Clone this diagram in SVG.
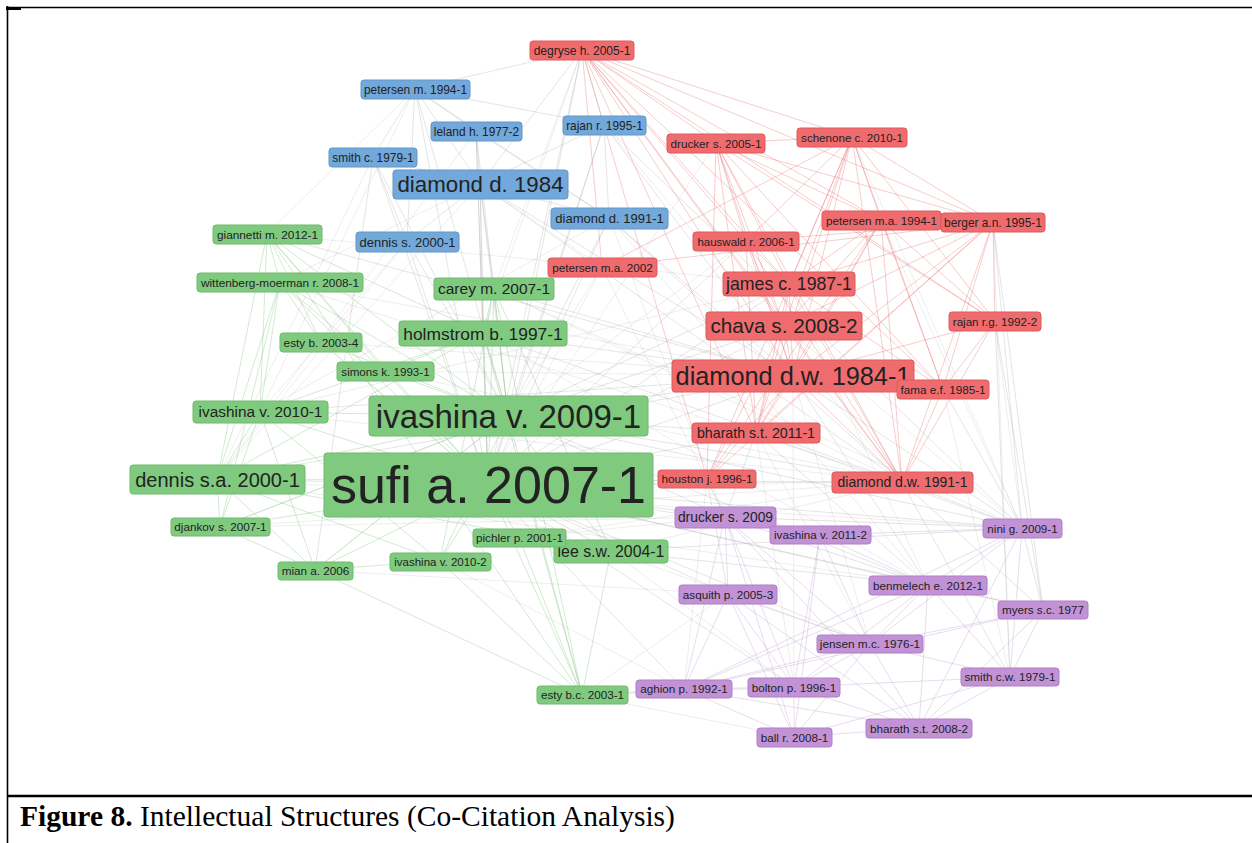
<svg xmlns="http://www.w3.org/2000/svg" width="1252" height="843" viewBox="0 0 1252 843">
<style>
.bg{fill:#ffffff}
.frame{stroke:#000;fill:none}
.er path{stroke:#e55a5e;stroke-opacity:.3;stroke-width:1;fill:none}
.eg path{stroke:#a9a9a9;stroke-opacity:.3;stroke-width:1;fill:none}
.eg2 path{stroke:#b0b0b0;stroke-opacity:.22;stroke-width:1;fill:none}
.egr path{stroke:#6fbf6f;stroke-opacity:.32;stroke-width:1;fill:none}
.ep path{stroke:#c3a2d3;stroke-opacity:.38;stroke-width:1;fill:none}
.node rect{rx:3;ry:3;stroke-width:1}
.g rect{fill:#7fca7f;stroke:#6eba6e}
.b rect{fill:#72a8da;stroke:#6197ca}
.r rect{fill:#ef6b6e;stroke:#dc5a5d}
.p rect{fill:#c292d6;stroke:#af7fc5}
.node text{font-family:"Liberation Sans",Arial,sans-serif;fill:#222;text-anchor:middle}
.cap{font-family:"Liberation Serif","Times New Roman",serif;font-size:29.5px;fill:#000}
</style>
<rect class="bg" x="0" y="0" width="1252" height="843"/>
<g id="frame">
<path class="frame" d="M6 7.5H1252" stroke-width="1.6"/>
<path class="frame" d="M7.5 6V843" stroke-width="1.6"/>
<path class="frame" d="M6 8.5H21" stroke-width="3"/>
<path class="frame" d="M7 796H1252" stroke-width="2.6"/>
</g>
<g id="connectors">
<g class="eg2">
<path d="M217 479L1022 528"/><path d="M217 479L928 585"/><path d="M260 412L789 284"/><path d="M260 412L902 482"/><path d="M267 234L789 284"/><path d="M280 282L793 376"/><path d="M280 282L902 482"/><path d="M321 342L793 376"/><path d="M385 371L793 376"/><path d="M385 371L902 482"/><path d="M494 289L902 482"/><path d="M494 289L1022 528"/><path d="M483 333L928 585"/><path d="M220 527L902 482"/><path d="M220 527L725 517"/><path d="M315 570L728 594"/><path d="M440 561L684 689"/><path d="M519 538L725 517"/><path d="M519 538L902 482"/><path d="M611 551L902 482"/><path d="M611 551L870 644"/><path d="M611 551L794 687"/><path d="M582 695L728 594"/><path d="M582 695L794 737"/><path d="M373 157L217 479"/><path d="M407 241L217 479"/><path d="M407 241L260 412"/><path d="M415 89L260 412"/><path d="M476 131L217 479"/><path d="M609 218L725 517"/><path d="M609 218L928 585"/><path d="M604 125L902 482"/><path d="M602 267L488 485"/><path d="M602 267L508 416"/><path d="M602 267L725 517"/><path d="M602 267L480 184"/><path d="M602 267L494 289"/><path d="M746 241L508 416"/><path d="M789 284L928 585"/><path d="M784 326L1022 528"/><path d="M793 376L870 644"/><path d="M793 376L794 687"/><path d="M756 433L870 644"/><path d="M756 433L794 687"/><path d="M707 479L684 689"/><path d="M943 389L1010 677"/><path d="M993 222L1010 677"/><path d="M995 321L1022 528"/><path d="M881 220L1022 528"/><path d="M852 137L1022 528"/><path d="M716 143L488 485"/><path d="M582 50L483 333"/><path d="M582 50L494 289"/><path d="M267 234L415 89"/><path d="M280 282L480 184"/><path d="M217 479L480 184"/><path d="M260 412L609 218"/><path d="M220 527L508 416"/><path d="M315 570L508 416"/><path d="M321 342L488 485"/>
</g>
<g class="eg">
<path d="M582 50L604 125"/><path d="M582 50L480 184"/><path d="M582 50L488 485"/><path d="M582 50L508 416"/><path d="M582 50L415 89"/>
<path d="M415 89L476 131"/><path d="M415 89L480 184"/><path d="M415 89L609 218"/><path d="M415 89L373 157"/><path d="M415 89L407 241"/><path d="M415 89L488 485"/><path d="M415 89L508 416"/><path d="M415 89L604 125"/>
<path d="M476 131L480 184"/><path d="M476 131L609 218"/><path d="M476 131L488 485"/><path d="M476 131L508 416"/><path d="M476 131L483 333"/>
<path d="M604 125L480 184"/><path d="M604 125L609 218"/><path d="M604 125L488 485"/><path d="M604 125L508 416"/><path d="M604 125L793 376"/><path d="M604 125L1022 528"/>
<path d="M373 157L480 184"/><path d="M373 157L488 485"/><path d="M373 157L508 416"/><path d="M373 157L407 241"/><path d="M373 157L315 570"/>
<path d="M480 184L609 218"/><path d="M480 184L407 241"/><path d="M480 184L488 485"/><path d="M480 184L508 416"/><path d="M480 184L793 376"/><path d="M480 184L483 333"/><path d="M480 184L494 289"/><path d="M480 184L902 482"/>
<path d="M609 218L488 485"/><path d="M609 218L508 416"/><path d="M609 218L793 376"/><path d="M609 218L902 482"/>
<path d="M407 241L488 485"/><path d="M407 241L508 416"/>
<path d="M488 485L793 376"/><path d="M488 485L902 482"/><path d="M488 485L707 479"/><path d="M488 485L725 517"/><path d="M488 485L820 535"/><path d="M488 485L1022 528"/><path d="M488 485L928 585"/><path d="M488 485L728 594"/><path d="M488 485L870 644"/><path d="M488 485L684 689"/><path d="M488 485L794 687"/><path d="M488 485L784 326"/><path d="M488 485L789 284"/><path d="M488 485L1043 610"/><path d="M488 485L756 433"/><path d="M488 485L746 241"/>
<path d="M508 416L793 376"/><path d="M508 416L784 326"/><path d="M508 416L789 284"/><path d="M508 416L902 482"/><path d="M508 416L725 517"/><path d="M508 416L1022 528"/><path d="M508 416L928 585"/><path d="M508 416L756 433"/>
<path d="M217 479L793 376"/><path d="M217 479L902 482"/><path d="M260 412L793 376"/><path d="M267 234L793 376"/><path d="M494 289L793 376"/><path d="M483 333L793 376"/><path d="M483 333L902 482"/><path d="M611 551L1022 528"/><path d="M611 551L928 585"/><path d="M582 695L684 689"/><path d="M582 695L794 687"/>
<path d="M756 433L725 517"/><path d="M756 433L1022 528"/><path d="M756 433L928 585"/><path d="M902 482L1022 528"/><path d="M902 482L1043 610"/><path d="M902 482L1010 677"/><path d="M707 479L725 517"/><path d="M707 479L728 594"/><path d="M793 376L928 585"/><path d="M793 376L1022 528"/><path d="M943 389L1022 528"/><path d="M993 222L1022 528"/><path d="M993 222L1043 610"/><path d="M995 321L1010 677"/><path d="M995 321L1043 610"/>
</g>
<g class="ep">
<path d="M725 517L820 535"/><path d="M725 517L1022 528"/><path d="M725 517L928 585"/><path d="M725 517L728 594"/><path d="M725 517L870 644"/><path d="M725 517L684 689"/><path d="M725 517L794 687"/><path d="M725 517L919 728"/><path d="M725 517L794 737"/>
<path d="M820 535L1022 528"/><path d="M820 535L928 585"/><path d="M820 535L870 644"/><path d="M820 535L794 687"/><path d="M820 535L794 737"/>
<path d="M1022 528L928 585"/><path d="M1022 528L1043 610"/><path d="M1022 528L1010 677"/><path d="M1022 528L870 644"/><path d="M1022 528L919 728"/><path d="M1022 528L684 689"/>
<path d="M928 585L1043 610"/><path d="M928 585L870 644"/><path d="M928 585L1010 677"/><path d="M928 585L794 687"/><path d="M928 585L919 728"/><path d="M928 585L684 689"/>
<path d="M728 594L870 644"/><path d="M728 594L684 689"/><path d="M728 594L794 687"/><path d="M728 594L794 737"/><path d="M728 594L919 728"/>
<path d="M1043 610L870 644"/><path d="M1043 610L1010 677"/><path d="M1043 610L919 728"/><path d="M1043 610L684 689"/>
<path d="M870 644L1010 677"/><path d="M870 644L684 689"/><path d="M870 644L794 687"/><path d="M870 644L919 728"/><path d="M870 644L794 737"/>
<path d="M1010 677L794 687"/><path d="M1010 677L919 728"/><path d="M1010 677L794 737"/>
<path d="M684 689L794 687"/><path d="M684 689L794 737"/><path d="M684 689L919 728"/>
<path d="M794 687L794 737"/><path d="M794 687L919 728"/><path d="M919 728L794 737"/>
</g>
<g class="egr">
<path d="M488 485L267 234"/><path d="M488 485L280 282"/><path d="M488 485L494 289"/><path d="M488 485L483 333"/><path d="M488 485L321 342"/><path d="M488 485L385 371"/><path d="M488 485L260 412"/><path d="M488 485L508 416"/><path d="M488 485L217 479"/><path d="M488 485L220 527"/><path d="M488 485L315 570"/><path d="M488 485L440 561"/><path d="M488 485L519 538"/><path d="M488 485L611 551"/><path d="M488 485L582 695"/>
<path d="M508 416L267 234"/><path d="M508 416L280 282"/><path d="M508 416L494 289"/><path d="M508 416L483 333"/><path d="M508 416L321 342"/><path d="M508 416L385 371"/><path d="M508 416L260 412"/><path d="M508 416L217 479"/><path d="M508 416L220 527"/><path d="M508 416L315 570"/><path d="M508 416L440 561"/><path d="M508 416L611 551"/><path d="M508 416L582 695"/>
<path d="M267 234L280 282"/><path d="M267 234L321 342"/><path d="M267 234L385 371"/><path d="M267 234L260 412"/><path d="M267 234L217 479"/><path d="M267 234L483 333"/><path d="M267 234L582 695"/>
<path d="M280 282L321 342"/><path d="M280 282L385 371"/><path d="M280 282L260 412"/><path d="M280 282L217 479"/><path d="M280 282L220 527"/>
<path d="M494 289L483 333"/><path d="M494 289L582 695"/><path d="M494 289L611 551"/><path d="M494 289L440 561"/>
<path d="M483 333L582 695"/><path d="M483 333L385 371"/><path d="M483 333L260 412"/><path d="M483 333L217 479"/>
<path d="M260 412L217 479"/><path d="M260 412L220 527"/><path d="M260 412L315 570"/><path d="M260 412L440 561"/>
<path d="M217 479L220 527"/><path d="M217 479L315 570"/><path d="M217 479L440 561"/><path d="M217 479L611 551"/>
<path d="M220 527L315 570"/><path d="M315 570L582 695"/><path d="M315 570L440 561"/><path d="M440 561L582 695"/><path d="M519 538L582 695"/><path d="M611 551L582 695"/>
</g>
<g class="er">
<path d="M582 50L716 143"/><path d="M582 50L852 137"/><path d="M582 50L881 220"/><path d="M582 50L993 222"/><path d="M582 50L746 241"/><path d="M582 50L789 284"/><path d="M582 50L784 326"/><path d="M582 50L793 376"/><path d="M582 50L756 433"/><path d="M582 50L902 482"/><path d="M582 50L995 321"/><path d="M582 50L943 389"/><path d="M582 50L602 267"/><path d="M582 50L707 479"/>
<path d="M716 143L852 137"/><path d="M716 143L881 220"/><path d="M716 143L993 222"/><path d="M716 143L746 241"/><path d="M716 143L789 284"/><path d="M716 143L784 326"/><path d="M716 143L793 376"/><path d="M716 143L756 433"/><path d="M716 143L707 479"/><path d="M716 143L902 482"/><path d="M716 143L995 321"/><path d="M716 143L943 389"/>
<path d="M852 137L881 220"/><path d="M852 137L993 222"/><path d="M852 137L746 241"/><path d="M852 137L789 284"/><path d="M852 137L784 326"/><path d="M852 137L793 376"/><path d="M852 137L756 433"/><path d="M852 137L902 482"/><path d="M852 137L995 321"/><path d="M852 137L943 389"/><path d="M852 137L707 479"/><path d="M852 137L602 267"/>
<path d="M881 220L993 222"/><path d="M881 220L789 284"/><path d="M881 220L784 326"/><path d="M881 220L793 376"/><path d="M881 220L756 433"/><path d="M881 220L902 482"/><path d="M881 220L995 321"/><path d="M881 220L943 389"/><path d="M881 220L707 479"/>
<path d="M993 222L746 241"/><path d="M993 222L789 284"/><path d="M993 222L784 326"/><path d="M993 222L793 376"/><path d="M993 222L756 433"/><path d="M993 222L707 479"/><path d="M993 222L902 482"/><path d="M993 222L995 321"/><path d="M993 222L943 389"/><path d="M993 222L602 267"/>
<path d="M746 241L789 284"/><path d="M746 241L784 326"/><path d="M746 241L793 376"/><path d="M746 241L756 433"/><path d="M746 241L902 482"/>
<path d="M789 284L784 326"/><path d="M789 284L793 376"/><path d="M789 284L756 433"/><path d="M789 284L902 482"/><path d="M789 284L943 389"/>
<path d="M784 326L793 376"/><path d="M784 326L756 433"/><path d="M784 326L902 482"/><path d="M784 326L707 479"/>
<path d="M793 376L756 433"/><path d="M793 376L902 482"/><path d="M793 376L943 389"/><path d="M793 376L707 479"/>
<path d="M995 321L793 376"/><path d="M995 321L902 482"/><path d="M995 321L943 389"/><path d="M943 389L902 482"/>
</g>
</g>
<g id="nodes">
<g id="n-degryse-2005" class="node r"><rect x="530" y="41" width="104" height="19"/><text x="582" y="54.7" font-size="12">degryse h. 2005-1</text></g>
<g id="n-petersen-m-1994" class="node b"><rect x="361" y="80" width="109" height="19"/><text x="415.5" y="93.7" font-size="11.9">petersen m. 1994-1</text></g>
<g id="n-leland-1977" class="node b"><rect x="431" y="122" width="91" height="19"/><text x="476.5" y="135.7" font-size="11.9">leland h. 1977-2</text></g>
<g id="n-rajan-r-1995" class="node b"><rect x="563" y="116" width="83" height="19"/><text x="604.5" y="129.7" font-size="11.9">rajan r. 1995-1</text></g>
<g id="n-smith-c-1979" class="node b"><rect x="329" y="148" width="88" height="19"/><text x="373" y="161.7" font-size="11.9">smith c. 1979-1</text></g>
<g id="n-diamond-d-1984" class="node b"><rect x="393" y="170" width="175" height="29"/><text x="480.5" y="192.2" font-size="22.3">diamond d. 1984</text></g>
<g id="n-diamond-d-1991" class="node b"><rect x="551" y="208" width="117" height="21"/><text x="609.5" y="223" font-size="13">diamond d. 1991-1</text></g>
<g id="n-dennis-s-2000" class="node b"><rect x="356" y="232" width="103" height="20"/><text x="407.5" y="246.5" font-size="13">dennis s. 2000-1</text></g>
<g id="n-drucker-2005" class="node r"><rect x="667" y="134" width="98" height="19"/><text x="716" y="147.7" font-size="11.7">drucker s. 2005-1</text></g>
<g id="n-schenone-2010" class="node r"><rect x="797" y="128" width="110" height="19"/><text x="852" y="141.6" font-size="11.6">schenone c. 2010-1</text></g>
<g id="n-petersen-ma-1994" class="node r"><rect x="822" y="211" width="119" height="19"/><text x="881.5" y="224.6" font-size="11.7">petersen m.a. 1994-1</text></g>
<g id="n-berger-1995" class="node r"><rect x="941" y="213" width="104" height="19"/><text x="993" y="226.7" font-size="11.9">berger a.n. 1995-1</text></g>
<g id="n-hauswald-2006" class="node r"><rect x="693" y="232" width="106" height="19"/><text x="746" y="245.5" font-size="11.5">hauswald r. 2006-1</text></g>
<g id="n-james-1987" class="node r"><rect x="723" y="272" width="132" height="24"/><text x="789" y="290.2" font-size="17.7">james c. 1987-1</text></g>
<g id="n-petersen-ma-2002" class="node r"><rect x="548" y="258" width="109" height="19"/><text x="602.5" y="271.6" font-size="11.7">petersen m.a. 2002</text></g>
<g id="n-rajan-rg-1992" class="node r"><rect x="949" y="312" width="92" height="19"/><text x="995" y="325.6" font-size="11.6">rajan r.g. 1992-2</text></g>
<g id="n-chava-2008" class="node r"><rect x="706" y="312" width="156" height="28"/><text x="784" y="333.2" font-size="20.7">chava s. 2008-2</text></g>
<g id="n-diamond-dw-1984" class="node r"><rect x="672" y="360" width="242" height="32"/><text x="793" y="384.9" font-size="25.3">diamond d.w. 1984-1</text></g>
<g id="n-fama-1985" class="node r"><rect x="897" y="380" width="92" height="19"/><text x="943" y="393.6" font-size="11.7">fama e.f. 1985-1</text></g>
<g id="n-bharath-2011" class="node r"><rect x="692" y="423" width="128" height="20"/><text x="756" y="437.9" font-size="14.2">bharath s.t. 2011-1</text></g>
<g id="n-houston-1996" class="node r"><rect x="658" y="470" width="98" height="18"/><text x="707" y="483.1" font-size="11.8">houston j. 1996-1</text></g>
<g id="n-diamond-dw-1991" class="node r"><rect x="832" y="472" width="141" height="21"/><text x="902.5" y="487.4" font-size="14">diamond d.w. 1991-1</text></g>
<g id="n-giannetti-2012" class="node g"><rect x="213" y="225" width="109" height="19"/><text x="267.5" y="238.6" font-size="11.8">giannetti m. 2012-1</text></g>
<g id="n-wittenberg-2008" class="node g"><rect x="197" y="273" width="166" height="19"/><text x="280" y="286.6" font-size="11.8">wittenberg-moerman r. 2008-1</text></g>
<g id="n-carey-2007" class="node g"><rect x="434" y="278" width="120" height="22"/><text x="494" y="294.4" font-size="15.5">carey m. 2007-1</text></g>
<g id="n-holmstrom-1997" class="node g"><rect x="399" y="321" width="168" height="25"/><text x="483" y="339.6" font-size="17.4">holmstrom b. 1997-1</text></g>
<g id="n-esty-b-2003-4" class="node g"><rect x="280" y="333" width="82" height="19"/><text x="321" y="346.6" font-size="11.8">esty b. 2003-4</text></g>
<g id="n-simons-1993" class="node g"><rect x="337" y="362" width="97" height="19"/><text x="385.5" y="375.6" font-size="11.6">simons k. 1993-1</text></g>
<g id="n-ivashina-2010-1" class="node g"><rect x="193" y="401" width="135" height="22"/><text x="260.5" y="417.4" font-size="15.4">ivashina v. 2010-1</text></g>
<g id="n-ivashina-2009" class="node g"><rect x="369" y="396" width="279" height="40"/><text x="508.5" y="427.5" font-size="33">ivashina v. 2009-1</text></g>
<g id="n-dennis-sa-2000" class="node g"><rect x="130" y="465" width="175" height="29"/><text x="217.5" y="486.5" font-size="20">dennis s.a. 2000-1</text></g>
<g id="n-sufi-2007" class="node g"><rect x="324" y="453" width="329" height="64"/><text x="488.5" y="503.2" font-size="52">sufi a. 2007-1</text></g>
<g id="n-djankov-2007" class="node g"><rect x="171" y="518" width="99" height="18"/><text x="220.5" y="531.1" font-size="11.7">djankov s. 2007-1</text></g>
<g id="n-mian-2006" class="node g"><rect x="278" y="562" width="75" height="18"/><text x="315.5" y="575.1" font-size="11.7">mian a. 2006</text></g>
<g id="n-ivashina-2010-2" class="node g"><rect x="390" y="553" width="101" height="18"/><text x="440.5" y="566" font-size="11.5">ivashina v. 2010-2</text></g>
<g id="n-lee-2004" class="node g"><rect x="554" y="540" width="114" height="23"/><text x="611" y="557.1" font-size="15.9">lee s.w. 2004-1</text></g>
<g id="n-pichler-2001" class="node g"><rect x="473" y="529" width="93" height="18"/><text x="519.5" y="542.1" font-size="11.7">pichler p. 2001-1</text></g>
<g id="n-esty-bc-2003" class="node g"><rect x="537" y="686" width="91" height="18"/><text x="582.5" y="699.1" font-size="11.7">esty b.c. 2003-1</text></g>
<g id="n-drucker-2009" class="node p"><rect x="675" y="507" width="101" height="21"/><text x="725.5" y="522.3" font-size="13.8">drucker s. 2009</text></g>
<g id="n-ivashina-2011" class="node p"><rect x="770" y="526" width="101" height="18"/><text x="820.5" y="539.1" font-size="11.7">ivashina v. 2011-2</text></g>
<g id="n-nini-2009" class="node p"><rect x="983" y="519" width="79" height="19"/><text x="1022.5" y="532.6" font-size="11.6">nini g. 2009-1</text></g>
<g id="n-benmelech-2012" class="node p"><rect x="869" y="576" width="118" height="19"/><text x="928" y="589.6" font-size="11.7">benmelech e. 2012-1</text></g>
<g id="n-asquith-2005" class="node p"><rect x="679" y="585" width="98" height="19"/><text x="728" y="598.6" font-size="11.7">asquith p. 2005-3</text></g>
<g id="n-myers-1977" class="node p"><rect x="998" y="601" width="90" height="18"/><text x="1043" y="614.1" font-size="11.6">myers s.c. 1977</text></g>
<g id="n-jensen-1976" class="node p"><rect x="817" y="635" width="106" height="18"/><text x="870" y="648.1" font-size="11.8">jensen m.c. 1976-1</text></g>
<g id="n-smith-cw-1979" class="node p"><rect x="961" y="668" width="98" height="18"/><text x="1010" y="681.1" font-size="11.7">smith c.w. 1979-1</text></g>
<g id="n-aghion-1992" class="node p"><rect x="636" y="680" width="96" height="18"/><text x="684" y="693.1" font-size="11.7">aghion p. 1992-1</text></g>
<g id="n-bolton-1996" class="node p"><rect x="748" y="678" width="92" height="19"/><text x="794" y="691.6" font-size="11.7">bolton p. 1996-1</text></g>
<g id="n-bharath-2008" class="node p"><rect x="866" y="719" width="106" height="19"/><text x="919" y="732.6" font-size="11.7">bharath s.t. 2008-2</text></g>
<g id="n-ball-2008" class="node p"><rect x="757" y="728" width="75" height="19"/><text x="794.5" y="741.6" font-size="11.7">ball r. 2008-1</text></g>
</g>
<text class="cap" x="20" y="826"><tspan font-weight="bold">Figure 8.</tspan> Intellectual Structures (Co-Citation Analysis)</text>
</svg>
